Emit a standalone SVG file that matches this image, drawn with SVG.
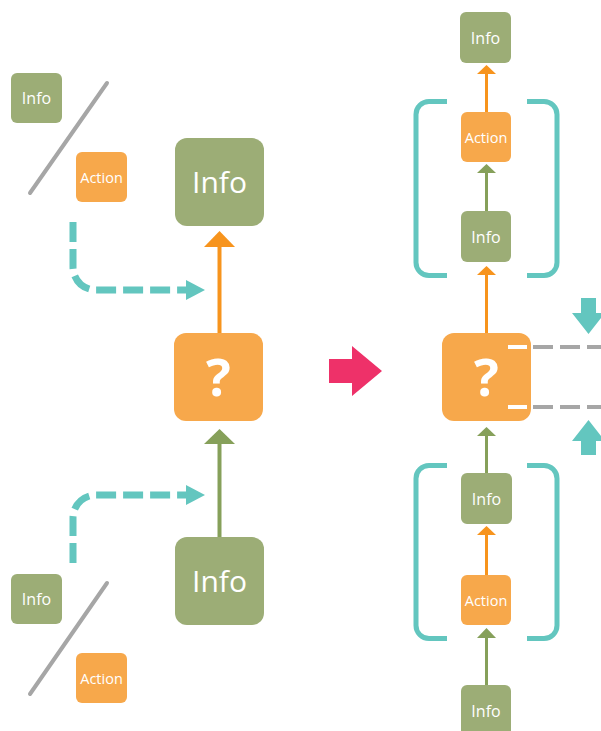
<svg xmlns="http://www.w3.org/2000/svg" width="601" height="731" viewBox="0 0 601 731">
<style>
.g{fill:#9CAD76}
.o{fill:#F7A84B}
.t{fill:#fff;font-family:"Open Sans","Liberation Sans",sans-serif;text-anchor:middle}
.s{font-size:16px}
.a{font-size:14.5px}
.b{font-size:30px}
.q{font-size:52px;font-weight:bold}
.ln{fill:none;stroke-width:4}
.ln3{fill:none;stroke-width:3}
.og{stroke:#F7941D}
.gg{stroke:#86A05A}
.ogf{fill:#F7941D}
.ggf{fill:#86A05A}
.td{fill:none;stroke:#63C6BF;stroke-width:7;stroke-dasharray:20 7}
.tf{fill:#63C6BF}
.br{fill:none;stroke:#63C6BF;stroke-width:5}
.gr{stroke:#A6A6A6;stroke-width:4;stroke-linecap:round}
.gd{fill:none;stroke:#A6A6A6;stroke-width:4;stroke-dasharray:20 7}
</style>
<g id="connectors">
  <line class="gr" x1="107" y1="83" x2="30" y2="193"/>
  <line class="gr" x1="107" y1="583" x2="30" y2="694"/>
  <path class="td" d="M73,222 V267 A23,23 0 0 0 96,290 H188"/>
  <polygon class="tf" points="186,280 205,290 186,300"/>
  <path class="td" d="M73,563 V518 A23,23 0 0 1 96,495 H188"/>
  <polygon class="tf" points="186,485 205,495 186,505"/>
  <line class="ln og" x1="219.5" y1="333" x2="219.5" y2="246"/>
  <polygon class="ogf" points="204,247 219.5,231 235,247"/>
  <line class="ln gg" x1="219.5" y1="537" x2="219.5" y2="443"/>
  <polygon class="ggf" points="204,444 219.5,429 235,444"/>
  <polygon fill="#EE3169" points="329,359 352,359 352,346 382,371 352,396 352,383 329,383"/>
  <line class="ln3 og" x1="486.5" y1="112" x2="486.5" y2="73"/>
  <polygon class="ogf" points="477,74 486.5,65 496,74"/>
  <line class="ln3 gg" x1="486.5" y1="211" x2="486.5" y2="172"/>
  <polygon class="ggf" points="477,173 486.5,164 496,173"/>
  <line class="ln3 og" x1="486.5" y1="333" x2="486.5" y2="274"/>
  <polygon class="ogf" points="477,275 486.5,266 496,275"/>
  <line class="ln3 gg" x1="486.5" y1="473" x2="486.5" y2="435"/>
  <polygon class="ggf" points="477,436 486.5,427 496,436"/>
  <line class="ln3 og" x1="486.5" y1="575" x2="486.5" y2="534"/>
  <polygon class="ogf" points="477,535 486.5,526 496,535"/>
  <line class="ln3 gg" x1="486.5" y1="685" x2="486.5" y2="637"/>
  <polygon class="ggf" points="477,638 486.5,628 496,638"/>
  <path class="br" d="M447,101.5 H429 A13,13 0 0 0 416,114.5 V262.5 A13,13 0 0 0 429,275.5 H447"/>
  <path class="br" d="M527,101.5 H544 A13,13 0 0 1 557,114.5 V262.5 A13,13 0 0 1 544,275.5 H527"/>
  <path class="br" d="M447,465.5 H429 A13,13 0 0 0 416,478.5 V625.5 A13,13 0 0 0 429,638.5 H447"/>
  <path class="br" d="M527,465.5 H544 A13,13 0 0 1 557,478.5 V625.5 A13,13 0 0 1 544,638.5 H527"/>
  <line class="gd" x1="533" y1="347" x2="601" y2="347"/>
  <line class="gd" x1="533" y1="407" x2="601" y2="407"/>
  <polygon class="tf" points="581,298 596,298 596,313 605,313 588.5,334 572,313 581,313"/>
  <polygon class="tf" points="581,455 596,455 596,441 605,441 588.5,420 572,441 581,441"/>
</g>
<g id="info-tl"><rect class="g" x="11" y="73" width="51" height="50" rx="6"/><text class="t s" x="36.5" y="104">Info</text></g>
<g id="action-tl"><rect class="o" x="76" y="152" width="51" height="50" rx="6"/><text class="t a" x="101.5" y="182.5">Action</text></g>
<g id="info-big-top"><rect class="g" x="175" y="138" width="89" height="88" rx="12"/><text class="t b" x="219.5" y="193">Info</text></g>
<g id="question-left"><rect class="o" x="174" y="333" width="89" height="88" rx="12"/><text class="t q" x="218.5" y="396">?</text></g>
<g id="info-big-bottom"><rect class="g" x="175" y="537" width="89" height="88" rx="12"/><text class="t b" x="219.5" y="592">Info</text></g>
<g id="info-bl"><rect class="g" x="11" y="574" width="51" height="50" rx="6"/><text class="t s" x="36.5" y="605">Info</text></g>
<g id="action-bl"><rect class="o" x="76" y="653" width="51" height="50" rx="6"/><text class="t a" x="101.5" y="683.5">Action</text></g>
<g id="info-r1"><rect class="g" x="460" y="12" width="51" height="51" rx="6"/><text class="t s" x="485.5" y="43.5">Info</text></g>
<g id="action-r1"><rect class="o" x="461" y="112" width="50" height="50" rx="6"/><text class="t a" x="486" y="142.5">Action</text></g>
<g id="info-r2"><rect class="g" x="461" y="211" width="50" height="51" rx="6"/><text class="t s" x="486" y="242.5">Info</text></g>
<g id="question-right"><rect class="o" x="442" y="333" width="89" height="88" rx="12"/><text class="t q" x="486.5" y="396">?</text>
  <line stroke="#fff" stroke-width="4" x1="508" y1="347" x2="527" y2="347"/>
  <line stroke="#fff" stroke-width="4" x1="508" y1="407" x2="527" y2="407"/></g>
<g id="info-r3"><rect class="g" x="461" y="473" width="51" height="51" rx="6"/><text class="t s" x="486.5" y="504.5">Info</text></g>
<g id="action-r2"><rect class="o" x="461" y="575" width="50" height="50" rx="6"/><text class="t a" x="486" y="605.5">Action</text></g>
<g id="info-r4"><rect class="g" x="461" y="685" width="50" height="51" rx="6"/><text class="t s" x="486" y="716.5">Info</text></g>
</svg>
